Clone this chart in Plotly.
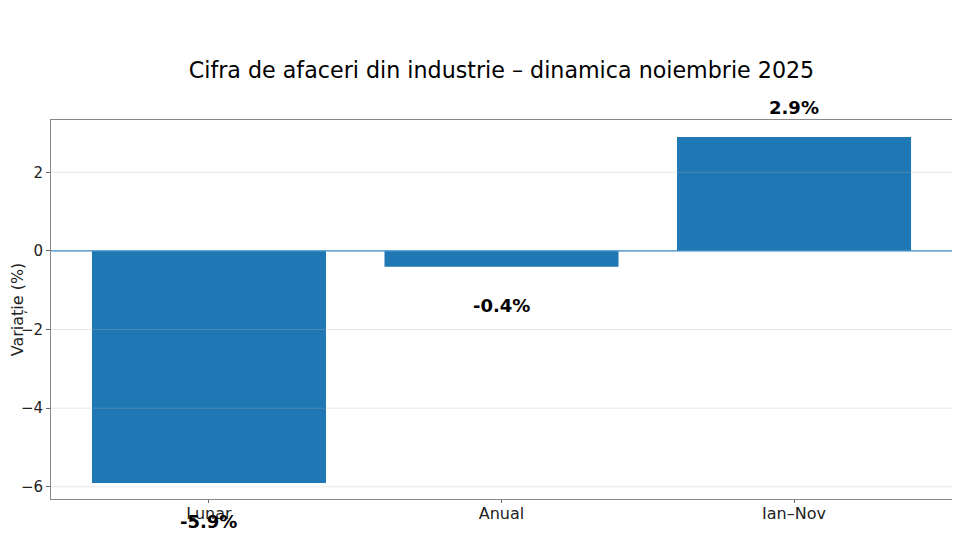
import plotly.graph_objects as go

categories = ["Lunar", "Anual", "Ian–Nov"]
values = [-5.9, -0.4, 2.9]
labels = ["-5.9%", "-0.4%", "2.9%"]
ytick_vals = [-6, -4, -2, 0, 2]
ytick_text = ["−6", "−4", "−2", "0", "2"]

YMIN, YMAX = -6.31, 3.33
BAR = "#1f77b4"
FONT = "DejaVu Sans"

fig = go.Figure()
fig.add_trace(go.Bar(x=categories, y=values, marker=dict(color=BAR, line=dict(width=0)),
                     width=0.8, showlegend=False, hoverinfo="skip"))

# value labels (offset from bar end), placed in paper coords so they can sit outside the plot
for c, v, t in zip(categories, values, labels):
    off = 0.74 if v >= 0 else -0.99
    py = (v + off - YMIN) / (YMAX - YMIN)
    fig.add_annotation(x=c, xref="x", y=py, yref="paper", text=f"<b>{t}</b>", showarrow=False,
                       font=dict(family=FONT, size=18, color="black"),
                       xanchor="center", yanchor="middle")

# grid lines above bars (faint)
for tv in ytick_vals:
    fig.add_shape(type="line", xref="paper", x0=0, x1=1, yref="y", y0=tv, y1=tv,
                  line=dict(color="rgba(180,180,180,0.3)", width=1), layer="above")
fig.add_shape(type="line", xref="paper", x0=0, x1=1, yref="y", y0=0, y1=0,
              line=dict(color="#3a8ccc", width=1.2), layer="above")

fig.update_layout(
    width=960, height=540,
    margin=dict(l=43, r=16, t=112, b=49),
    paper_bgcolor="white", plot_bgcolor="white",
    font=dict(family=FONT, size=14, color="#222"),
    title=dict(text="Cifra de afaceri din industrie – dinamica noiembrie 2025",
               x=0.5, xref="paper", xanchor="center", y=0.885, yanchor="middle",
               font=dict(family=FONT, size=22.2, color="black")),
    bargap=0.2,
)
fig.update_xaxes(range=[-0.54, 2.54], showgrid=False, showline=True, linecolor="#888", linewidth=1,
                 mirror=True, ticks="outside", ticklen=3, tickcolor="#666", automargin=False,
                 ticklabelstandoff=-3,
                 tickfont=dict(family=FONT, size=16, color="#222"))
fig.update_yaxes(range=[YMIN, YMAX], showgrid=False, zeroline=False, showline=True, linecolor="#888",
                 linewidth=1, mirror=True, ticks="outside", ticklen=4, tickcolor="#666",
                 tickvals=ytick_vals, ticktext=ytick_text, automargin=False,
                 tickfont=dict(family=FONT, size=15, color="#222"),
                 title=dict(text="Variație (%)", font=dict(family=FONT, size=16, color="#222"), standoff=18))

fig.write_html("out.html")
